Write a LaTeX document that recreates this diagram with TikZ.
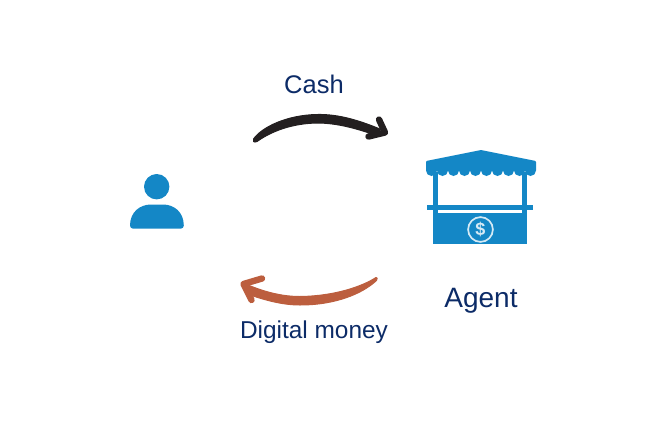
\documentclass[tikz,border=0pt]{standalone}
\usepackage{fontspec}
\setmainfont{Liberation Sans}
\definecolor{iconblue}{HTML}{1487C6}
\definecolor{labelnavy}{HTML}{0C2B67}
\definecolor{inkblack}{HTML}{231F20}
\definecolor{rust}{HTML}{BC5E3E}
\definecolor{coinpale}{HTML}{D5EAF5}
\tikzset{
  lab/.style={text=labelnavy,inner sep=0pt,anchor=base,font=\fontsize{25.5}{28}\selectfont},
  brush/.style={line join=round,line width=1pt},
  barb/.style={line width=6.4pt,line cap=round,line join=round},
}
\begin{document}
\begin{tikzpicture}[x=1pt,y=-1pt]
\useasboundingbox (0,0) rectangle (649,429);
% labels
\node[lab] (cash) at (314,93.5) {Cash};
\node[lab,font=\fontsize{28}{30}\selectfont] (agent) at (481,307) {Agent};
\node[lab,font=\fontsize{24.4}{26}\selectfont] (digital) at (314,338) {Digital money};
% person
\fill[iconblue] (156.7,186.7) circle (12.7);
\fill[iconblue] (130,225.5) .. controls (130,212) and (140,204.5) .. (151,204.5)
  -- (163,204.5) .. controls (174,204.5) and (183.8,212) .. (183.8,225.5)
  .. controls (183.8,227.5) and (182.5,228.7) .. (180.5,228.7) -- (133.3,228.7)
  .. controls (131.3,228.7) and (130,227.5) .. (130,225.5) -- cycle;
% stall
\fill[iconblue,rounded corners=1pt] (426,161) -- (481,150) -- (536,161) -- (536,171) -- (426,171) -- cycle;
\foreach \cx in {431.5,442.5,453.5,464.5,475.5,486.5,497.5,508.5,519.5,530.5}
  \fill[iconblue] (\cx,170.5) circle (5.5);
\fill[iconblue] (433,172) rectangle (437.5,213);
\fill[iconblue] (522,172) rectangle (526.5,213);
\fill[iconblue] (427,205) rectangle (532.5,209.5);
\fill[iconblue] (433,213) rectangle (527,244);
\draw[coinpale,line width=1.7pt] (480.5,229.5) circle (12.4);
\node[text=coinpale,inner sep=0pt,font=\bfseries\fontsize{18}{18}\selectfont] (dollar) at (480.5,229.5) {\$};
% cash arrow
\coordinate (cashtail) at (253.5,139);
\coordinate (cashvertex) at (385,132.5);
\fill[inkblack,draw=inkblack,brush] (cashtail)
  .. controls (262,127) and (287,115) .. (317,114.5)
  .. controls (338,114) and (358,120) .. (380,129)
  -- (378,136)
  .. controls (358,129) and (338,123) .. (317,123)
  .. controls (292,123.5) and (272,131) .. (257,141.5)
  .. controls (254,143) and (252,141) .. (cashtail) -- cycle;
\draw[inkblack,barb] (379,119.5) -- (cashvertex) -- (368.5,136.5);
% money arrow
\coordinate (moneytail) at (376,277.5);
\coordinate (moneyvertex) at (243.5,284);
\fill[rust,draw=rust,brush] (moneytail)
  .. controls (362,286.5) and (335,296) .. (300,296.5)
  .. controls (282,296.5) and (265,292) .. (248,285)
  -- (250,295)
  .. controls (265,300) and (282,305) .. (300,305)
  .. controls (335,305) and (362,294) .. (376.5,280.5)
  .. controls (378,279) and (377,277) .. (moneytail) -- cycle;
\draw[rust,barb] (262,278.5) -- (moneyvertex) -- (251.5,300);
\end{tikzpicture}
\end{document}
